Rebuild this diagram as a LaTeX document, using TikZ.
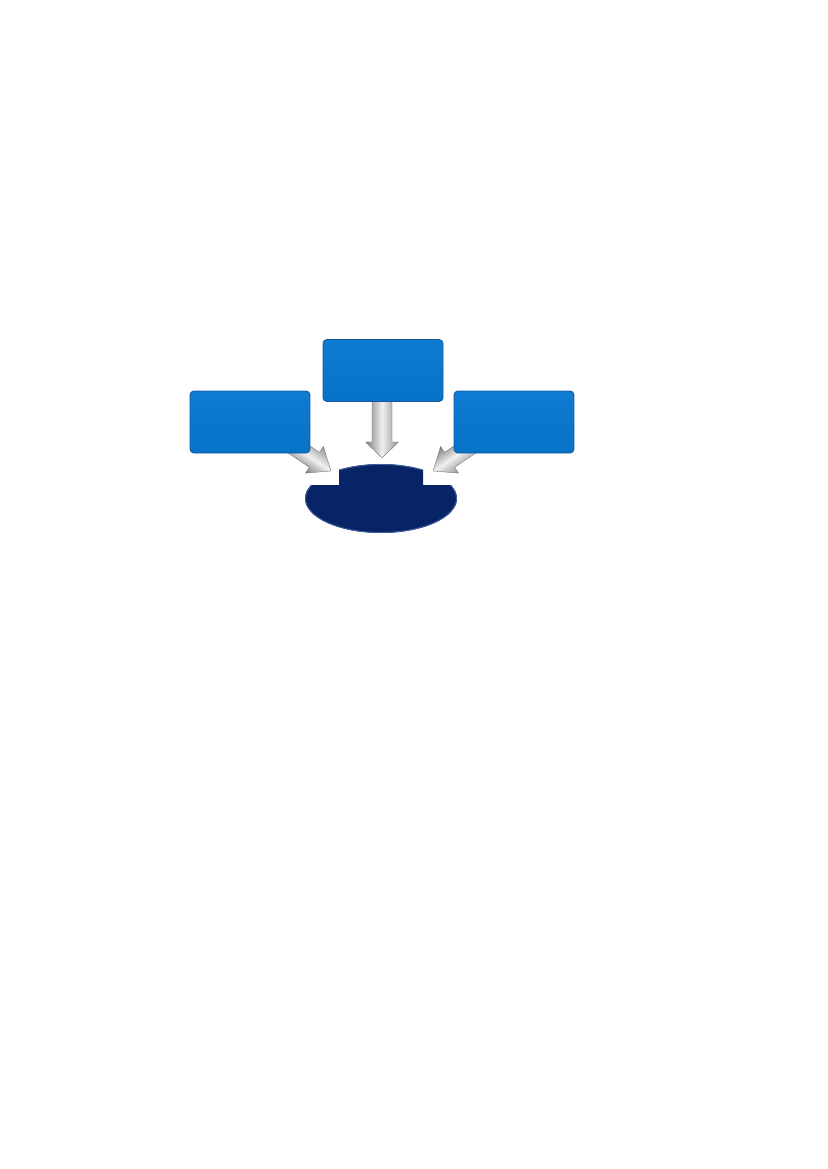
\documentclass[tikz,border=0pt]{standalone}
\usetikzlibrary{shapes.geometric}
\definecolor{boxblue}{RGB}{6,114,200}
\definecolor{boxtop}{RGB}{14,124,210}
\definecolor{boxedge}{RGB}{22,88,155}
\definecolor{navy}{RGB}{6,36,102}
\definecolor{navyrim}{RGB}{60,92,155}
\definecolor{arrdark}{RGB}{125,125,125}
\definecolor{arrlight}{RGB}{240,240,240}
\begin{document}
\begin{tikzpicture}[x=1pt,y=-1pt,
  bluebox/.style={draw=boxedge, line width=0.9pt, rounded corners=4pt,
    top color=boxtop, bottom color=boxblue,
    minimum width=120pt, minimum height=62pt, inner sep=0pt},
  blockarrow/.style={top color=arrdark!85, bottom color=arrdark, middle color=arrlight,
    draw=arrdark!80!black, line width=0.3pt},
  goalshape/.style={ellipse, minimum width=152pt, minimum height=69pt, inner sep=0pt}]
\useasboundingbox (0,0) rectangle (827,1169);

% target ellipse (position only)
\node[goalshape] (goal) at (381,498.5) {};

% arrow tips (free ends)
\coordinate (tipL) at (331,471);
\coordinate (tipC) at (382,458);
\coordinate (tipR) at (433,471);

% block arrows (drawn first so they start under the boxes)
\begin{scope}[transform canvas={shift={(tipL)},rotate=-34}]
  \path[blockarrow] (0,0) -- (-20,-16) -- (-20,-9) -- (-60,-9) -- (-60,9) -- (-20,9) -- (-20,16) -- cycle;
\end{scope}
\begin{scope}[transform canvas={shift={(tipC)},rotate=-90}]
  \path[blockarrow] (0,0) -- (-16,-16.5) -- (-16,-10) -- (-64,-10) -- (-64,10) -- (-16,10) -- (-16,16.5) -- cycle;
\end{scope}
\begin{scope}[transform canvas={shift={(tipR)},rotate=-146}]
  \path[blockarrow] (0,0) -- (-20,-16) -- (-20,-9) -- (-60,-9) -- (-60,9) -- (-20,9) -- (-20,16) -- cycle;
\end{scope}

% boxes
\node[bluebox] (left)  at (250,422) {};
\node[bluebox] (top)   at (383,370.5) {};
\node[bluebox] (right) at (514,422) {};

% notched ellipse
\begin{scope}
  \clip (290,485) rectangle (470,545) (339,455) rectangle (423,486);
  \fill[navy] (goal.center) ellipse [x radius=76, y radius=34.5];
  \draw[navyrim, line width=0.9pt] (goal.center) ellipse [x radius=75.5, y radius=34];
\end{scope}
\end{tikzpicture}
\end{document}
